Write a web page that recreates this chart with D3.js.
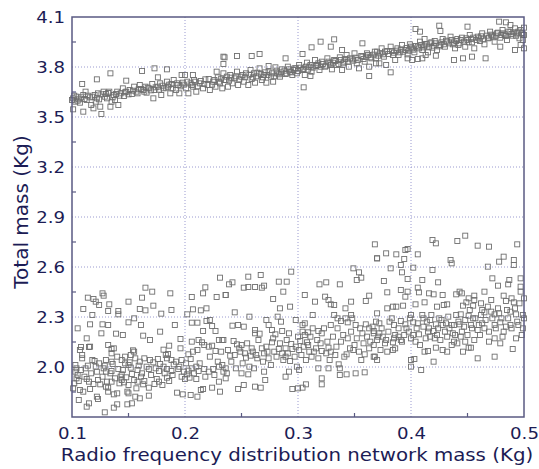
<!DOCTYPE html>
<html>
<head>
<meta charset="utf-8">
<script src="https://cdn.jsdelivr.net/npm/d3@7"></script>
<style>
  body { margin: 0; background: #fff; }
  svg { display: block; font-family: "DejaVu Sans", sans-serif; }
</style>
</head>
<body>
<div id="wrapper"></div>
<script>
// values: [rf network mass, total mass]
const upperBand = [
  [0.101,3.546],[0.110,3.532],[0.109,3.698],[0.122,3.726],[0.134,3.762],[0.126,3.518],[0.134,3.562],[0.141,3.572],
  [0.148,3.718],[0.162,3.776],[0.173,3.792],[0.176,3.738],[0.184,3.786],[0.197,3.752],[0.200,3.752],[0.207,3.752],
  [0.228,3.772],[0.234,3.862],[0.234,3.818],
  [0.100,3.602],[0.101,3.612],[0.103,3.592],[0.104,3.622],[0.106,3.606],[0.107,3.586],[0.110,3.632],[0.112,3.652],
  [0.113,3.602],[0.116,3.618],[0.117,3.572],[0.119,3.552],[0.120,3.632],[0.121,3.592],[0.123,3.642],[0.124,3.606],
  [0.125,3.562],[0.128,3.652],[0.130,3.638],[0.131,3.612],[0.133,3.652],[0.135,3.592],[0.137,3.632],[0.138,3.602],
  [0.140,3.652],[0.143,3.642],[0.145,3.672],[0.146,3.626],[0.148,3.652],[0.151,3.662],[0.153,3.638],[0.155,3.682],
  [0.157,3.652],[0.159,3.666],[0.160,3.692],[0.163,3.662],[0.165,3.682],[0.166,3.646],[0.168,3.672],[0.171,3.698],
  [0.172,3.612],[0.173,3.662],[0.176,3.682],[0.178,3.702],[0.179,3.632],[0.181,3.672],[0.184,3.712],[0.185,3.682],
  [0.187,3.642],[0.188,3.698],[0.190,3.722],[0.192,3.662],[0.194,3.692],[0.195,3.642],[0.198,3.706],[0.201,3.672],
  [0.203,3.642],[0.205,3.702],[0.207,3.682],[0.209,3.712],[0.210,3.652],[0.213,3.702],[0.216,3.672],[0.218,3.726],
  [0.220,3.692],[0.222,3.662],[0.225,3.712],[0.227,3.682],[0.229,3.738],[0.231,3.702],[0.233,3.672],[0.235,3.722],
  [0.235,3.858],[0.246,3.866],[0.259,3.866],[0.266,3.878],[0.289,3.852],[0.304,3.878],[0.312,3.918],[0.320,3.952],
  [0.329,3.922],[0.332,3.966],[0.339,3.902],[0.357,3.942],[0.305,3.678],[0.311,3.746],[0.363,3.746],[0.274,3.806],
  [0.234,3.762],[0.236,3.722],[0.238,3.682],[0.240,3.752],[0.242,3.702],[0.244,3.732],[0.246,3.772],[0.247,3.692],
  [0.250,3.742],[0.252,3.712],[0.254,3.762],[0.256,3.692],[0.258,3.782],[0.260,3.738],[0.262,3.706],[0.264,3.766],
  [0.266,3.792],[0.268,3.722],[0.270,3.752],[0.272,3.706],[0.274,3.772],[0.276,3.742],[0.278,3.712],[0.280,3.798],
  [0.282,3.762],[0.284,3.742],[0.286,3.786],[0.289,3.758],[0.291,3.802],[0.293,3.772],[0.295,3.752],[0.297,3.792],
  [0.299,3.762],[0.301,3.812],[0.304,3.782],[0.306,3.752],[0.308,3.826],[0.310,3.802],[0.312,3.772],[0.315,3.842],
  [0.317,3.812],[0.319,3.782],[0.321,3.832],[0.324,3.802],[0.326,3.852],[0.328,3.822],[0.330,3.786],[0.332,3.842],
  [0.334,3.812],[0.337,3.858],[0.339,3.782],[0.341,3.832],[0.343,3.872],[0.345,3.802],[0.348,3.846],[0.350,3.882],
  [0.352,3.822],[0.354,3.792],[0.357,3.862],[0.359,3.832],[0.361,3.882],[0.363,3.802],[0.365,3.852],[0.368,3.892],
  [0.369,3.822],
  [0.404,4.028],[0.408,4.012],[0.425,4.048],[0.426,4.016],[0.450,4.042],[0.478,4.072],[0.484,4.068],[0.488,4.052],
  [0.382,3.768],[0.397,3.852],[0.401,3.842],[0.406,3.848],[0.410,3.852],[0.413,3.872],[0.422,3.868],[0.438,3.842],
  [0.446,3.852],[0.454,3.862],[0.466,3.852],[0.479,3.922],[0.492,3.902],[0.497,3.932],[0.412,3.968],
  [0.369,3.852],[0.370,3.892],[0.372,3.822],[0.374,3.912],[0.376,3.862],[0.378,3.812],[0.379,3.896],[0.382,3.922],
  [0.384,3.872],[0.386,3.842],[0.388,3.912],[0.390,3.888],[0.392,3.932],[0.395,3.902],[0.397,3.876],[0.399,3.936],
  [0.401,3.912],[0.403,3.888],[0.406,3.922],[0.408,3.952],[0.410,3.902],[0.412,3.928],[0.415,3.888],[0.417,3.942],
  [0.419,3.916],[0.421,3.956],[0.423,3.902],[0.426,3.932],[0.428,3.968],[0.430,3.922],[0.432,3.952],[0.435,3.982],
  [0.437,3.936],[0.439,3.912],[0.441,3.968],[0.443,3.942],[0.445,3.976],[0.448,3.922],[0.450,3.962],[0.452,3.992],
  [0.454,3.948],[0.456,3.912],[0.459,3.982],[0.461,3.956],[0.463,4.002],[0.465,3.936],[0.468,3.972],[0.470,4.012],
  [0.472,3.988],[0.474,3.952],[0.476,4.002],[0.479,3.976],[0.481,4.022],[0.483,3.996],[0.485,3.962],[0.488,4.012],
  [0.490,3.988],[0.492,4.032],[0.494,4.002],[0.496,3.972],[0.497,4.022],[0.499,3.996],[0.500,4.036],[0.499,3.962],
  [0.500,3.912]
];

// denser core of the upper band
const upperCore = [
  [0.102,3.628],[0.105,3.598],[0.108,3.618],[0.111,3.608],[0.114,3.628],[0.118,3.622],[0.122,3.612],[0.126,3.636],
  [0.129,3.622],[0.132,3.644],[0.136,3.618],[0.139,3.638],[0.142,3.628],[0.147,3.648],[0.150,3.636],[0.154,3.658],
  [0.158,3.642],[0.161,3.668],[0.164,3.652],[0.167,3.676],[0.170,3.660],[0.174,3.678],[0.177,3.664],[0.180,3.688],
  [0.183,3.676],[0.186,3.694],[0.189,3.672],[0.193,3.702],[0.196,3.684],[0.199,3.694],[0.202,3.712],[0.206,3.692],
  [0.208,3.722],[0.211,3.684],[0.214,3.716],[0.217,3.698],[0.221,3.728],[0.224,3.694],[0.226,3.722],[0.230,3.712],
  [0.232,3.730],[0.237,3.742],[0.239,3.718],[0.241,3.736],[0.245,3.744],[0.248,3.726],[0.251,3.752],[0.253,3.738],
  [0.257,3.754],[0.259,3.728],[0.261,3.762],[0.263,3.744],[0.267,3.758],[0.269,3.738],[0.271,3.768],[0.273,3.752],
  [0.277,3.762],[0.279,3.744],[0.281,3.778],[0.283,3.756],[0.285,3.768],[0.288,3.778],[0.290,3.762],[0.292,3.786],
  [0.294,3.768],[0.296,3.782],[0.298,3.792],[0.300,3.776],[0.302,3.796],[0.305,3.788],[0.307,3.802],[0.309,3.784],
  [0.311,3.812],[0.313,3.796],[0.316,3.806],[0.318,3.822],[0.320,3.802],[0.322,3.818],[0.325,3.808],[0.327,3.832],
  [0.329,3.812],[0.331,3.826],[0.333,3.836],[0.336,3.818],[0.338,3.842],[0.340,3.822],[0.342,3.848],[0.344,3.832],
  [0.346,3.852],[0.349,3.838],[0.351,3.856],[0.353,3.842],[0.356,3.866],[0.358,3.848],[0.360,3.862],[0.362,3.872],
  [0.364,3.858],[0.367,3.874],[0.371,3.868],[0.373,3.882],[0.375,3.876],[0.377,3.892],[0.380,3.878],[0.383,3.896],
  [0.385,3.886],[0.387,3.898],[0.389,3.872],[0.391,3.906],[0.393,3.892],[0.396,3.914],[0.398,3.898],[0.400,3.922],
  [0.402,3.904],[0.404,3.926],[0.407,3.912],[0.409,3.932],[0.411,3.918],[0.414,3.936],[0.416,3.922],[0.418,3.948],
  [0.420,3.928],[0.422,3.942],[0.425,3.924],[0.427,3.948],[0.429,3.936],[0.431,3.958],[0.434,3.942],[0.436,3.962],
  [0.438,3.946],[0.440,3.956],[0.442,3.932],[0.444,3.962],[0.447,3.952],[0.449,3.972],[0.451,3.948],[0.453,3.968],
  [0.455,3.976],[0.458,3.962],[0.460,3.972],[0.462,3.984],[0.464,3.966],[0.467,3.988],[0.469,3.976],[0.471,3.994],
  [0.473,3.978],[0.475,3.988],[0.477,4.006],[0.480,3.992],[0.482,4.002],[0.484,3.986],[0.486,4.012],[0.489,3.998],
  [0.491,4.008],[0.493,3.988],[0.495,4.012],[0.498,4.004],[0.500,3.992]
];

const lowerCloud = [
  [0.231,2.536],[0.165,2.476],[0.171,2.452],[0.127,2.442],[0.128,2.428],[0.114,2.416],[0.119,2.408],[0.121,2.392],
  [0.124,2.372],[0.133,2.376],[0.110,2.348],[0.132,2.336],[0.141,2.336],[0.141,2.316],[0.150,2.392],[0.162,2.416],
  [0.160,2.348],[0.165,2.340],[0.172,2.368],[0.179,2.320],[0.187,2.442],[0.202,2.316],[0.206,2.420],[0.216,2.442],
  [0.218,2.478],[0.228,2.420],[0.236,2.432],[0.207,2.346],[0.214,2.340],[0.219,2.352],[0.219,2.276],[0.222,2.282],
  [0.116,2.256],[0.127,2.256],[0.132,2.252],[0.126,2.202],[0.139,2.200],[0.150,2.268],[0.161,2.252],[0.163,2.188],
  [0.169,2.162],[0.191,2.252],[0.196,2.168],[0.206,2.266],[0.211,2.266],[0.216,2.216],[0.227,2.216],[0.108,2.120],
  [0.115,2.120],[0.116,2.122],[0.109,2.072],[0.132,2.132],[0.135,2.108],[0.137,2.112],[0.135,2.082],[0.154,2.100],
  [0.155,2.092],[0.152,2.072],[0.147,2.062],[0.181,2.104],[0.186,2.128],[0.196,2.112],[0.183,2.072],[0.184,2.052],
  [0.206,2.152],[0.212,2.162],[0.215,2.148],[0.217,2.132],[0.221,2.122],[0.224,2.128],[0.227,2.096],[0.230,2.162],
  [0.233,2.162],[0.207,2.092],[0.211,2.102],[0.203,2.076],
  [0.109,2.052],[0.118,2.042],[0.120,2.036],[0.130,2.042],[0.135,2.032],[0.144,2.042],[0.147,2.022],[0.150,2.012],
  [0.156,2.052],[0.160,2.032],[0.164,2.052],[0.169,2.042],[0.172,2.028],[0.176,2.048],[0.188,2.042],[0.190,2.016],
  [0.192,2.032],[0.197,2.042],[0.201,2.022],[0.104,1.992],[0.103,1.972],[0.112,1.992],[0.121,2.002],[0.128,1.992],
  [0.130,1.972],[0.135,1.976],[0.141,1.988],[0.144,1.956],[0.152,1.996],[0.158,1.982],[0.162,1.962],[0.168,1.988],
  [0.174,1.992],[0.177,1.976],[0.181,2.002],[0.184,1.988],[0.188,1.976],[0.194,1.988],[0.199,1.972],[0.203,1.978],
  [0.206,1.992],[0.210,2.002],[0.212,1.976],[0.217,1.988],[0.221,1.972],[0.225,1.988],[0.230,2.002],[0.234,1.972],
  [0.104,1.932],[0.106,1.916],[0.113,1.928],[0.115,1.912],[0.123,1.922],[0.125,1.896],[0.130,1.882],[0.132,1.876],
  [0.135,1.912],[0.143,1.942],[0.144,1.922],[0.146,1.908],[0.150,1.892],[0.155,1.922],[0.158,1.912],[0.163,1.896],
  [0.164,1.916],[0.168,1.876],[0.175,1.928],[0.177,1.912],[0.180,1.892],[0.184,1.936],[0.186,1.916],[0.197,1.942],
  [0.202,1.956],[0.204,1.936],[0.210,1.928],[0.214,1.862],[0.216,1.868],[0.224,1.876],[0.231,1.852],[0.230,1.912],
  [0.107,1.862],[0.110,1.852],[0.116,1.868],[0.122,1.822],[0.123,1.808],[0.132,1.852],[0.137,1.836],[0.140,1.842],
  [0.149,1.852],[0.150,1.842],[0.156,1.822],[0.160,1.812],[0.168,1.828],[0.193,1.846],[0.198,1.836],[0.205,1.832],
  [0.211,1.822],[0.106,1.802],[0.113,1.762],[0.115,1.782],[0.137,1.756],[0.140,1.776],[0.149,1.776],[0.153,1.782],
  [0.129,1.728],[0.102,1.902],[0.101,1.872],[0.107,2.102],
  [0.368,2.736],[0.370,2.652],[0.349,2.592],[0.354,2.568],[0.356,2.536],[0.352,2.522],[0.294,2.572],[0.256,2.542],
  [0.267,2.552],[0.239,2.496],[0.242,2.508],[0.252,2.476],[0.256,2.480],[0.262,2.480],[0.268,2.476],[0.270,2.488],
  [0.283,2.512],[0.290,2.512],[0.287,2.452],[0.278,2.408],[0.293,2.362],[0.319,2.496],[0.325,2.508],[0.337,2.496],
  [0.306,2.432],[0.315,2.392],[0.324,2.422],[0.327,2.402],[0.329,2.376],[0.332,2.372],[0.342,2.352],[0.363,2.428],
  [0.360,2.396],[0.236,2.432],[0.244,2.328],[0.242,2.248],[0.247,2.252],[0.252,2.242],[0.262,2.222],[0.262,2.202],
  [0.266,2.200],[0.272,2.282],[0.274,2.252],[0.277,2.222],[0.280,2.196],[0.282,2.302],[0.285,2.272],[0.286,2.216],
  [0.292,2.202],[0.298,2.282],[0.304,2.252],[0.306,2.262],[0.304,2.212],[0.309,2.208],[0.311,2.182],[0.318,2.216],
  [0.321,2.202],[0.329,2.252],[0.332,2.312],[0.335,2.292],[0.338,2.276],[0.342,2.292],[0.344,2.268],[0.347,2.312],
  [0.348,2.292],[0.351,2.252],[0.360,2.256],[0.357,2.202],[0.363,2.232],[0.367,2.202],[0.369,2.272],
  [0.234,2.162],[0.233,2.012],[0.236,1.992],[0.237,1.962],[0.236,1.932],[0.243,2.156],[0.246,2.136],[0.240,2.068],
  [0.244,2.072],[0.249,2.092],[0.250,2.132],[0.253,2.082],[0.254,2.056],[0.258,2.068],[0.260,2.092],[0.264,2.052],
  [0.261,1.992],[0.268,2.112],[0.270,2.082],[0.272,2.122],[0.277,2.148],[0.274,2.052],[0.279,2.092],[0.283,2.108],
  [0.286,2.082],[0.289,2.062],[0.293,2.036],[0.289,2.112],[0.295,2.108],[0.298,2.122],[0.301,2.102],[0.302,2.156],
  [0.305,2.122],[0.308,2.148],[0.310,2.092],[0.312,2.062],[0.316,2.112],[0.318,2.052],[0.321,2.096],[0.325,2.082],
  [0.327,2.116],[0.329,2.092],[0.333,2.072],[0.336,2.016],[0.343,2.076],[0.346,2.112],[0.350,2.132],[0.354,2.092],
  [0.356,2.042],[0.359,2.076],[0.363,2.112],[0.367,2.132],[0.368,2.062],[0.299,2.002],[0.301,1.982],[0.292,1.972],
  [0.289,1.942],[0.270,1.972],[0.271,1.922],[0.250,1.962],[0.256,1.956],[0.247,1.868],[0.252,1.892],[0.262,1.882],
  [0.267,1.876],[0.295,1.868],[0.300,1.872],[0.304,1.876],[0.307,1.896],[0.321,1.932],[0.321,1.896],[0.337,1.952],
  [0.343,1.956],[0.351,1.962],[0.359,1.968],[0.318,1.992],[0.327,1.992],[0.337,1.992],
  [0.419,2.762],[0.422,2.742],[0.441,2.756],[0.448,2.788],[0.459,2.728],[0.469,2.722],[0.494,2.736],[0.370,2.652],
  [0.378,2.682],[0.387,2.676],[0.391,2.612],[0.394,2.648],[0.395,2.702],[0.397,2.708],[0.406,2.676],[0.382,2.592],
  [0.392,2.568],[0.402,2.596],[0.419,2.582],[0.435,2.642],[0.436,2.622],[0.468,2.602],[0.478,2.632],[0.482,2.662],
  [0.491,2.642],[0.491,2.612],[0.472,2.532],[0.477,2.488],[0.487,2.522],[0.486,2.496],[0.497,2.532],[0.497,2.482],
  [0.376,2.516],[0.397,2.528],[0.410,2.522],[0.424,2.508],[0.379,2.448],[0.391,2.462],[0.397,2.452],[0.395,2.422],
  [0.406,2.476],[0.407,2.448],[0.416,2.442],[0.420,2.436],[0.428,2.432],[0.440,2.436],[0.443,2.452],[0.445,2.442],
  [0.451,2.412],[0.456,2.428],[0.456,2.402],[0.465,2.452],[0.471,2.402],[0.482,2.428],[0.484,2.396],[0.489,2.412],
  [0.491,2.388],[0.496,2.382],[0.370,2.322],[0.379,2.352],[0.384,2.362],[0.387,2.362],[0.393,2.368],[0.404,2.376],
  [0.412,2.388],[0.423,2.362],[0.429,2.372],[0.432,2.376],[0.446,2.368],[0.449,2.388],[0.455,2.368],[0.462,2.382],
  [0.468,2.362],[0.471,2.332],[0.474,2.316],[0.478,2.322],[0.485,2.342],[0.488,2.332],[0.493,2.316],[0.499,2.312],
  [0.465,2.328],[0.462,2.312],[0.400,2.312],[0.410,2.312],[0.417,2.282],[0.425,2.292],[0.440,2.312],[0.444,2.316],
  [0.451,2.308],[0.455,2.292],[0.372,2.262],[0.381,2.272],[0.385,2.252],[0.391,2.276],[0.395,2.256],[0.402,2.268],
  [0.406,2.262],[0.411,2.292],[0.414,2.272],[0.422,2.256],[0.428,2.252],[0.431,2.262],[0.434,2.232],[0.438,2.252],
  [0.443,2.256],[0.447,2.242],[0.453,2.252],[0.459,2.222],[0.463,2.262],[0.465,2.232],[0.474,2.252],[0.479,2.268],
  [0.484,2.242],[0.488,2.252],[0.494,2.272],[0.499,2.232],[0.367,2.216],[0.372,2.202],[0.375,2.182],[0.370,2.162],
  [0.378,2.162],[0.384,2.148],[0.385,2.172],[0.389,2.182],[0.391,2.162],[0.394,2.192],[0.398,2.212],[0.400,2.172],
  [0.404,2.152],[0.407,2.196],[0.415,2.212],[0.417,2.182],[0.420,2.216],[0.423,2.192],[0.426,2.162],[0.432,2.182],
  [0.437,2.202],[0.438,2.152],[0.441,2.142],[0.444,2.182],[0.448,2.152],[0.453,2.116],[0.456,2.162],[0.461,2.192],
  [0.469,2.152],[0.474,2.172],[0.479,2.142],[0.481,2.182],[0.490,2.108],[0.373,2.102],[0.379,2.092],[0.384,2.102],
  [0.386,2.112],[0.367,2.062],[0.370,2.042],[0.412,2.092],[0.415,2.096],[0.422,2.116],[0.428,2.102],[0.432,2.092],
  [0.436,2.132],[0.446,2.092],[0.451,2.116],[0.459,2.052],[0.474,2.062],[0.420,2.032],[0.400,2.042],[0.403,2.048],
  [0.400,2.002],[0.409,1.982]
];

// extra points filling the dense part of the lower cloud
const lowerCore = [
  [0.103,2.012],[0.105,1.952],[0.108,1.982],[0.111,1.942],[0.114,2.008],[0.117,1.962],[0.119,1.898],[0.122,1.972],
  [0.124,2.022],[0.127,1.942],[0.129,2.008],[0.131,1.912],[0.134,1.962],[0.136,2.018],[0.138,1.932],[0.140,2.062],
  [0.142,1.902],[0.145,1.982],[0.148,1.938],[0.151,2.028],[0.153,1.958],[0.157,1.872],[0.159,2.008],[0.161,1.942],
  [0.166,2.002],[0.170,1.952],[0.173,1.898],[0.178,2.018],[0.182,1.962],[0.185,2.078],[0.189,1.952],[0.195,2.002],
  [0.200,1.928],[0.205,2.048],[0.208,1.962],[0.213,2.022],[0.218,1.942],[0.222,2.062],[0.226,1.952],[0.229,2.032],
  [0.232,2.092],[0.113,2.172],[0.145,2.192],[0.178,2.212],[0.118,2.312],[0.155,2.292],[0.188,2.342],[0.224,2.246],
  [0.105,2.232],
  [0.238,2.102],[0.241,2.032],[0.245,1.992],[0.248,2.112],[0.251,2.022],[0.255,2.142],[0.257,2.002],[0.259,2.112],
  [0.263,2.072],[0.265,2.162],[0.269,2.032],[0.273,2.092],[0.276,2.012],[0.278,2.172],[0.281,2.062],[0.284,2.142],
  [0.287,2.042],[0.290,2.162],[0.291,2.082],[0.294,2.138],[0.297,2.062],[0.300,2.182],[0.303,2.072],[0.306,2.192],
  [0.307,2.042],[0.309,2.132],[0.313,2.232],[0.314,2.092],[0.317,2.162],[0.320,2.142],[0.323,2.232],[0.326,2.152],
  [0.328,2.042],[0.331,2.182],[0.334,2.122],[0.335,2.232],[0.338,2.152],[0.340,2.192],[0.341,2.062],[0.344,2.172],
  [0.347,2.212],[0.349,2.102],[0.352,2.172],[0.355,2.232],[0.358,2.142],[0.361,2.182],[0.364,2.152],[0.366,2.242],
  [0.257,2.302],[0.284,2.352],[0.313,2.312],[0.347,2.392],
  [0.371,2.182],[0.374,2.232],[0.377,2.142],[0.380,2.212],[0.383,2.292],[0.386,2.192],[0.389,2.232],[0.392,2.152],
  [0.396,2.232],[0.399,2.292],[0.402,2.192],[0.405,2.232],[0.408,2.132],[0.411,2.242],[0.413,2.172],[0.416,2.232],
  [0.418,2.312],[0.421,2.172],[0.424,2.232],[0.427,2.282],[0.430,2.212],[0.433,2.302],[0.436,2.252],[0.439,2.192],
  [0.442,2.272],[0.445,2.212],[0.448,2.282],[0.450,2.192],[0.452,2.342],[0.454,2.232],[0.457,2.292],[0.460,2.252],
  [0.463,2.342],[0.466,2.282],[0.469,2.212],[0.472,2.292],[0.475,2.232],[0.477,2.352],[0.480,2.292],[0.482,2.212],
  [0.486,2.292],[0.489,2.232],[0.492,2.352],[0.495,2.252],[0.498,2.192],[0.500,2.292],[0.500,2.412],[0.497,2.452],
  [0.493,2.172]
];

const xTicks = [0.1, 0.2, 0.3, 0.4, 0.5];
const yTicks = [2.0, 2.3, 2.6, 2.9, 3.2, 3.5, 3.8, 4.1];
const xMinor = [0.15, 0.25, 0.35, 0.45];
const yMinor = [1.85, 2.15, 2.45, 2.75, 3.05, 3.35, 3.65, 3.95];

const width = 539, height = 469;
const margin = { top: 17, right: 15, bottom: 52, left: 72 };
const innerW = width - margin.left - margin.right;
const innerH = height - margin.top - margin.bottom;

const navy = "#1c1c55";
const frameColor = "#5a5a82";
const gridColor = "#9a9ad0";
const stretch = 1.1; // the source image's text is a little wider than tall

const svg = d3.select("#wrapper").append("svg")
  .attr("width", width)
  .attr("height", height);

const bounds = svg.append("g")
  .attr("transform", `translate(${margin.left},${margin.top})`);

const x = d3.scaleLinear().domain([0.1, 0.5]).range([0, innerW]);
const y = d3.scaleLinear().domain([1.7, 4.1]).range([innerH, 0]);

// grid
bounds.append("g")
  .selectAll("line")
  .data(xTicks.slice(1, -1))
  .join("line")
  .attr("x1", d => x(d)).attr("x2", d => x(d))
  .attr("y1", 0).attr("y2", innerH)
  .attr("stroke", gridColor).attr("stroke-dasharray", "1,2");

bounds.append("g")
  .selectAll("line")
  .data(yTicks.slice(0, -1))
  .join("line")
  .attr("y1", d => y(d)).attr("y2", d => y(d))
  .attr("x1", 0).attr("x2", innerW)
  .attr("stroke", gridColor).attr("stroke-dasharray", "1,2");

// points
const s = 5;
const drawSquares = (data) => bounds.append("g")
  .selectAll("rect")
  .data(data)
  .join("rect")
  .attr("x", d => x(d[0]) - s / 2)
  .attr("y", d => y(d[1]) - s / 2)
  .attr("width", s).attr("height", s)
  .attr("fill", "none")
  .attr("stroke", "#6f6f6f")
  .attr("stroke-width", 0.9);

drawSquares(lowerCloud);
drawSquares(lowerCore);
drawSquares(upperBand);
drawSquares(upperCore);

// axes
const xAxis = bounds.append("g")
  .attr("transform", `translate(0,${innerH})`)
  .call(d3.axisBottom(x).tickValues(xTicks).tickSize(0).tickPadding(10).tickFormat(d3.format(".1f")));
const yAxis = bounds.append("g")
  .call(d3.axisLeft(y).tickValues(yTicks).tickSize(0).tickPadding(7).tickFormat(d3.format(".1f")));

[xAxis, yAxis].forEach(a => {
  a.select(".domain").remove();
  a.selectAll("text")
    .attr("fill", navy)
    .style("font-size", "16.5px")
    .style("font-family", "DejaVu Sans")
    .attr("transform", `scale(${stretch},1)`);
});
yAxis.selectAll("text").attr("x", -7 / stretch);

// minor ticks, pointing inward
bounds.append("g").selectAll("line").data(xMinor).join("line")
  .attr("x1", d => x(d)).attr("x2", d => x(d))
  .attr("y1", innerH).attr("y2", innerH - 4)
  .attr("stroke", frameColor).attr("stroke-width", 1.2);
bounds.append("g").selectAll("line").data(yMinor).join("line")
  .attr("y1", d => y(d)).attr("y2", d => y(d))
  .attr("x1", 0).attr("x2", 4)
  .attr("stroke", frameColor).attr("stroke-width", 1.2);

// frame
bounds.append("rect")
  .attr("width", innerW).attr("height", innerH)
  .attr("fill", "none")
  .attr("stroke", frameColor)
  .attr("stroke-width", 1.5);

// axis titles
svg.append("text")
  .attr("transform", `translate(297,461) scale(${stretch},1)`)
  .attr("text-anchor", "middle")
  .attr("fill", navy)
  .style("font-size", "18px")
  .text("Radio frequency distribution network mass (Kg)");

svg.append("text")
  .attr("transform", `translate(28,212) rotate(-90)`)
  .attr("text-anchor", "middle")
  .attr("fill", navy)
  .style("font-size", "20px")
  .text("Total mass (Kg)");
</script>
</body>
</html>
